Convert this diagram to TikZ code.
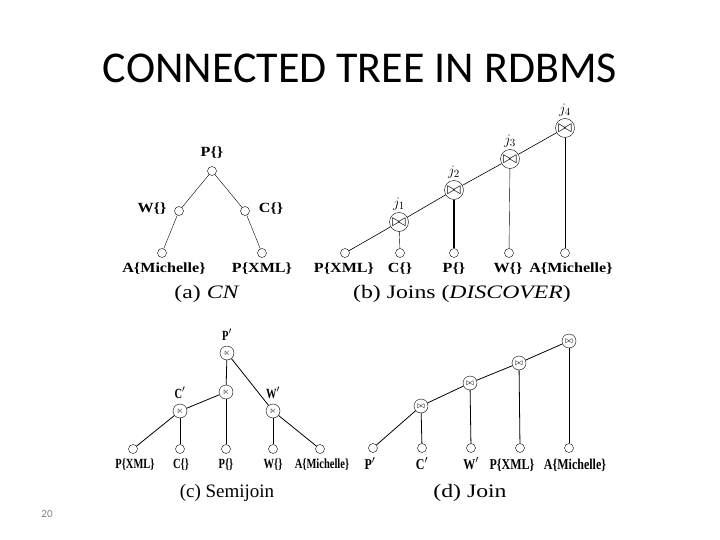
\documentclass[tikz,border=0pt]{standalone}
\usepackage{amssymb}
\usepackage{fontspec}
\setmainfont{Liberation Serif}
\newfontfamily\titlefont{Carlito}
\newfontfamily\wideserif[FakeStretch=1.15]{Liberation Serif}
\newfontfamily\captserif[FakeStretch=1.25]{Liberation Serif}
\newfontfamily\narrowserif[FakeStretch=0.75]{Liberation Serif}
\newfontfamily\condserif[FakeStretch=0.8]{Liberation Serif}

\begin{document}
\begin{tikzpicture}[x=1pt, y=-1pt,
		leaf/.style={circle, draw, inner sep=0pt, minimum size=9pt},
		jn/.style={circle, draw, inner sep=0pt, minimum size=19pt, font=\LARGE},
		sjn/.style={circle, draw, inner sep=0pt, minimum size=14pt, font=\small},
		lbl/.style={text height=9pt, text depth=3pt},
		caption/.style={font=\fontsize{19}{22}\selectfont}]
		\useasboundingbox (0,0) rectangle (720,540);
		\node (title) at (360,68) {\titlefont\fontsize{44}{48}\selectfont CONNECTED TREE IN RDBMS};
		\node[text=gray] (pagenum) at (47,514) {\titlefont\fontsize{11}{12}\selectfont 20};

		% (a) candidate network
		\begin{scope}
			\tikzstyle{every node}=[align=center, inner sep=1pt, font=\wideserif\bfseries\fontsize{14}{16}\selectfont]
			\node[leaf] (pa) at (212,171) {};
			\node[leaf] (wa) at (179,211) {};
			\node[leaf] (ca) at (245,211) {};
			\node[leaf] (ma) at (162,253) {};
			\node[leaf] (xa) at (262,253) {};
			\node[lbl] (lpa) at (212,154) {P\{\}};
			\node[lbl] (lwa) at (152,210) {W\{\}};
			\node[lbl] (lca) at (271,210) {C\{\}};
			\node[lbl] (lma) at (164,269) {A\{Michelle\}};
			\node[lbl] (lxa) at (262,269) {P\{XML\}};
			\node[caption, font=\captserif\fontsize{19}{22}\selectfont] (capa) at (207,294) {(a) \textit{CN}};

			\draw (pa) -- (wa);
			\draw (pa) -- (ca);
			\draw (wa) -- (ma);
			\draw (ca) -- (xa);
		\end{scope}

		% (b) joins
		\begin{scope}
			\tikzstyle{every node}=[align=center, inner sep=1pt, font=\wideserif\bfseries\fontsize{14}{16}\selectfont]
			\node[leaf] (bx) at (345,253) {};
			\node[leaf] (bc) at (400,253) {};
			\node[leaf] (bp) at (454,253) {};
			\node[leaf] (bw) at (509,253) {};
			\node[leaf] (bm) at (565,253) {};
			\node[jn] (j1) at (399,222) {$\bowtie$};
			\node[jn] (j2) at (454,190) {$\bowtie$};
			\node[jn] (j3) at (510,159) {$\bowtie$};
			\node[jn] (j4) at (565,128) {$\bowtie$};
			\node[font=\fontsize{15}{17}\selectfont] (lj1) at (399,204) {$j_1$};
			\node[font=\fontsize{15}{17}\selectfont] (lj2) at (454,172) {$j_2$};
			\node[font=\fontsize{15}{17}\selectfont] (lj3) at (510,141) {$j_3$};
			\node[font=\fontsize{15}{17}\selectfont] (lj4) at (565,110) {$j_4$};
			\node[lbl] (lbx) at (344,269) {P\{XML\}};
			\node[lbl] (lbc) at (400,269) {C\{\}};
			\node[lbl] (lbp) at (454,269) {P\{\}};
			\node[lbl] (lbw) at (508,269) {W\{\}};
			\node[lbl] (lbm) at (571,269) {A\{Michelle\}};
			\node[caption, font=\captserif\fontsize{19}{22}\selectfont] (capb) at (462,294) {(b) Joins (\textit{DISCOVER})};

			\draw[line width=0.6pt] (bx) -- (j1) -- (j2) -- (j3) -- (j4);
			\draw (j1) -- (bc);
			\draw[line width=1.4pt] (j2) -- (bp);
			\draw (j3) -- (bw);
			\draw (j4) -- (bm);
		\end{scope}

		% (c) semijoin
		\begin{scope}
			\tikzstyle{every node}=[align=center, inner sep=1pt, font=\narrowserif\bfseries\fontsize{14}{16}\selectfont]
			\node[sjn] (cp) at (227,353) {$\ltimes$};
			\node[sjn] (cm) at (226,392) {$\ltimes$};
			\node[sjn] (cc) at (180,411) {$\ltimes$};
			\node[sjn] (cw) at (273,411) {$\ltimes$};
			\node[leaf] (c1) at (133,449) {};
			\node[leaf] (c2) at (180,449) {};
			\node[leaf] (c3) at (226,449) {};
			\node[leaf] (c4) at (273,449) {};
			\node[leaf] (c5) at (320,449) {};
			\node[lbl] (lcp) at (227,337) {P$'$};
			\node[lbl] (lcc) at (180,395) {C$'$};
			\node[lbl] (lcw) at (273,395) {W$'$};
			\node[lbl] (lc1) at (135,465) {P\{XML\}};
			\node[lbl] (lc2) at (181,465) {C\{\}};
			\node[lbl] (lc3) at (226,465) {P\{\}};
			\node[lbl] (lc4) at (273,465) {W\{\}};
			\node[lbl] (lc5) at (322,465) {A\{Michelle\}};
			\node[caption] (capc) at (227,493) {(c) Semijoin};

			\draw[line width=0.8pt] (cp) -- (cm);
			\draw[line width=0.8pt] (cp) -- (cw);
			\draw[line width=0.8pt] (cm) -- (cc);
			\draw[line width=0.8pt] (cm) -- (c3);
			\draw[line width=0.8pt] (cc) -- (c1);
			\draw[line width=0.8pt] (cc) -- (c2);
			\draw[line width=0.8pt] (cw) -- (c4);
			\draw[line width=0.8pt] (cw) -- (c5);
		\end{scope}

		% (d) join
		\begin{scope}
			\tikzstyle{every node}=[align=center, inner sep=1pt, font=\condserif\bfseries\fontsize{15}{17}\selectfont]
			\node[sjn] (dj1) at (421,406) {$\bowtie$};
			\node[sjn] (dj2) at (470,383) {$\bowtie$};
			\node[sjn] (dj3) at (519,363) {$\bowtie$};
			\node[sjn] (dj4) at (569,341) {$\bowtie$};
			\node[leaf] (d1) at (373,448) {};
			\node[leaf] (d2) at (422,448) {};
			\node[leaf] (d3) at (471,448) {};
			\node[leaf] (d4) at (520,448) {};
			\node[leaf] (d5) at (569,448) {};
			\node[lbl] (ld1) at (370,466) {P$'$};
			\node[lbl] (ld2) at (422,466) {C$'$};
			\node[lbl] (ld3) at (471,466) {W$'$};
			\node[lbl] (ld4) at (512,466) {P\{XML\}};
			\node[lbl] (ld5) at (575,466) {A\{Michelle\}};
			\node[caption, font=\captserif\fontsize{19}{22}\selectfont] (capd) at (470,493) {(d) Join};

			\draw[line width=0.8pt] (d1) -- (dj1) -- (dj2) -- (dj3) -- (dj4);
			\draw[line width=0.8pt] (dj1) -- (d2);
			\draw[line width=0.8pt] (dj2) -- (d3);
			\draw[line width=0.8pt] (dj3) -- (d4);
			\draw[line width=0.8pt] (dj4) -- (d5);
		\end{scope}
\end{tikzpicture}
\end{document}
